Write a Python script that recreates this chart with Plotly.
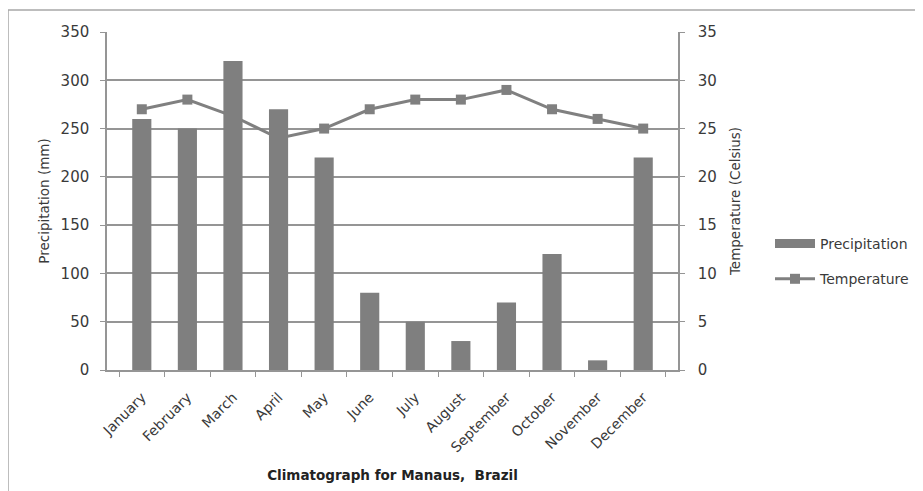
import plotly.graph_objects as go

months = ["January", "February", "March", "April", "May", "June", "July",
          "August", "September", "October", "November", "December"]
precipitation = [260, 250, 320, 270, 220, 80, 50, 30, 70, 120, 10, 220]
temperature = [27, 28, 26.3, 24, 25, 27, 28, 28, 29, 27, 26, 25]

# page has an 8px body margin, so work in figure coords = screen - 8
OFF = 8
W, H = 923 - OFF, 491 - OFF
L, R, T, B = 107 - OFF, 678 - OFF, 32 - OFF, 370 - OFF

FONT = "DejaVu Sans, sans-serif"
TXT = "#3a3a3a"
GRID = "#959595"
GRAY = "#7f7f7f"

fig = go.Figure()
fig.add_trace(go.Bar(
    x=months, y=precipitation, name="Precipitation",
    marker=dict(color=GRAY, line=dict(width=0)),
    yaxis="y2", showlegend=False,
))
# legend proxy for the bar series (wide bar swatch, as in the reference)
fig.add_trace(go.Scatter(
    x=[None], y=[None], name="Precipitation", mode="lines",
    line=dict(color=GRAY, width=9), legendgroup="p",
))
fig.add_trace(go.Scatter(
    x=months, y=temperature, name="Temperature",
    mode="lines+markers",
    line=dict(color="#808080", width=3),
    marker=dict(symbol="square", size=10, color="#808080"),
    yaxis="y", legendgroup="t",
))

pw = R - L
ph = B - T
def px(xs):
    return (xs - OFF - L) / pw
def py(ys):
    return (B - (ys - OFF)) / ph

fig.update_layout(
    width=W, height=H,
    margin=dict(l=L, r=W - R, t=T, b=H - B, autoexpand=False),
    paper_bgcolor="white", plot_bgcolor="white",
    font=dict(family=FONT, size=14, color=TXT),
    bargap=0.58,
    showlegend=True,
    legend=dict(x=px(770), y=py(228), xanchor="left", yanchor="top",
                traceorder="grouped", font=dict(size=14, color=TXT),
                itemwidth=40, tracegroupgap=14, bgcolor="rgba(0,0,0,0)"),
    xaxis=dict(
        type="category", tickangle=-45,
        showline=True, linecolor=GRID, linewidth=1.5,
        ticks="outside", ticklen=5, tickcolor=GRID, tickson="boundaries",
        ticklabelstandoff=12,
        showgrid=False,
        tickfont=dict(size=14, color=TXT),
        title=dict(text="<b>Climatograph for Manaus,  Brazil</b>",
                   font=dict(size=13.5, color="#222"), standoff=16),
    ),
    yaxis=dict(
        side="right", range=[0, 35], dtick=5,
        showline=True, linecolor=GRID, linewidth=1.5,
        ticks="outside", ticklen=5, tickcolor=GRID,
        ticklabelstandoff=10,
        showgrid=True, gridcolor=GRID, gridwidth=1.5,
        zeroline=False,
        tickfont=dict(size=15, color=TXT),
        title=dict(text="Temperature (Celsius)", font=dict(size=13.5, color=TXT), standoff=15),
    ),
    yaxis2=dict(
        overlaying="y", side="left", range=[0, 350], dtick=50,
        showline=True, linecolor=GRID, linewidth=1.5,
        ticks="outside", ticklen=5, tickcolor=GRID,
        ticklabelstandoff=8,
        showgrid=False, zeroline=False,
        tickfont=dict(size=15, color=TXT),
        title=dict(text="Precipitation (mm)", font=dict(size=13.5, color=TXT), standoff=8),
    ),
    shapes=[dict(
        type="rect", xref="paper", yref="paper",
        x0=px(8), x1=px(940), y0=py(510), y1=py(10),
        line=dict(color="#a8a8a8", width=1.5), fillcolor="rgba(0,0,0,0)", layer="below",
    )],
)

fig.write_html("out.html")
